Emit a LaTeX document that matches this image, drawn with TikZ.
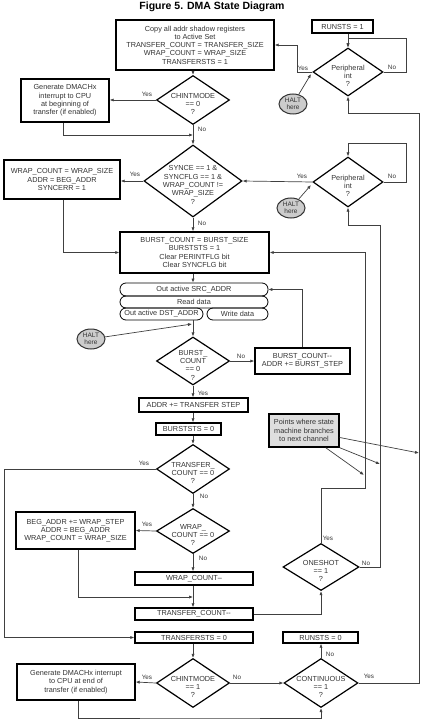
\documentclass[tikz,border=0pt]{standalone}
\usepackage{fontspec}
\setmainfont{Liberation Sans}
\usetikzlibrary{shapes.geometric,arrows.meta}
\begin{document}
\begin{tikzpicture}[x=1pt,y=-1pt,
  every node/.style={font=\fontsize{7.3}{8.3}\selectfont, text=black!80},
  box/.style={draw=black, line width=1.4pt, inner sep=0pt, align=center, fill=white},
  rbox/.style={draw=black, line width=0.8pt, rounded corners=6pt, inner sep=0pt, align=center},
  dia/.style={diamond, draw=black, line width=1.2pt, inner sep=0pt},
  dlab/.style={align=center, inner sep=0pt, yshift=-4pt},
  halt/.style={ellipse, draw=black!80, line width=1pt, fill=black!20, inner sep=0pt, minimum width=28pt, minimum height=20pt, align=center, font=\fontsize{6.5}{7}\selectfont},
  con/.style={draw=black!75, line width=0.7pt},
  arr/.style={con, -{Latex[length=4pt,width=3.2pt]}},
  lbl/.style={font=\fontsize{6.3}{7}\selectfont, inner sep=0pt},
]
\useasboundingbox (0,0) rectangle (424,722);

\node[font=\bfseries\fontsize{10.5}{12}\selectfont, text=black] (title) at (212,7) {Figure 5. DMA State Diagram};

% boxes
\node[box, minimum width=158pt, minimum height=50pt] (copy) at (195,45) {Copy all addr shadow registers\\to Active Set\\TRANSFER\_COUNT = TRANSFER\_SIZE\\WRAP\_COUNT = WRAP\_SIZE\\TRANSFERSTS = 1};
\node[box, minimum width=61pt, minimum height=13pt] (runs1) at (342.5,26.5) {RUNSTS = 1};
\node[box, minimum width=88pt, minimum height=43pt] (gen1) at (65,100.5) {Generate DMACHx\\interrupt to CPU\\at beginning of\\transfer (if enabled)};
\node[box, minimum width=116pt, minimum height=39pt] (wrapsync) at (62,179.5) {WRAP\_COUNT = WRAP\_SIZE\\ADDR = BEG\_ADDR\\SYNCERR = 1};
\node[box, minimum width=149pt, minimum height=41pt] (burst) at (194.5,252.5) {BURST\_COUNT = BURST\_SIZE\\BURSTSTS = 1\\Clear PERINTFLG bit\\Clear SYNCFLG bit};
\node[rbox, minimum width=148pt, minimum height=13pt] (src) at (194,289.5) {Out active SRC\_ADDR};
\node[rbox, minimum width=148pt, minimum height=12pt] (read) at (194,302) {Read data};
\node[rbox, minimum width=83pt, minimum height=12pt] (dst) at (161.5,314) {Out active DST\_ADDR};
\node[rbox, minimum width=61pt, minimum height=12pt] (write) at (237.5,314) {Write data};
\node[box, minimum width=95pt, minimum height=26pt] (bcdec) at (302.5,361) {BURST\_COUNT-{}-\\ADDR += BURST\_STEP};
\node[box, minimum width=109pt, minimum height=14pt] (addr) at (193.5,405) {ADDR += TRANSFER STEP};
\node[box, minimum width=65pt, minimum height=12pt] (bsts0) at (188.5,429) {BURSTSTS = 0};
\node[box, fill=black!13, minimum width=70pt, minimum height=33pt] (points) at (304,430.5) {Points where state\\machine branches\\to next channel};
\node[box, minimum width=119pt, minimum height=37pt] (begaddr) at (75.5,530.5) {BEG\_ADDR += WRAP\_STEP\\ADDR = BEG\_ADDR\\WRAP\_COUNT = WRAP\_SIZE};
\node[box, minimum width=118pt, minimum height=13pt] (wcdec) at (194,578.5) {WRAP\_COUNT--};
\node[box, minimum width=118pt, minimum height=12pt] (tcdec) at (194,614) {TRANSFER\_COUNT-{}-};
\node[box, minimum width=118pt, minimum height=11pt] (tsts0) at (194,637.5) {TRANSFERSTS = 0};
\node[box, minimum width=75pt, minimum height=11pt] (runs0) at (320.5,637.5) {RUNSTS = 0};
\node[box, minimum width=118pt, minimum height=36pt] (gen2) at (76,682) {Generate DMACHx interrupt\\to CPU at end of\\transfer (if enabled)};

% diamonds
\node[dia, minimum width=70pt, minimum height=48pt, label={[dlab]center:{Peripheral\\int\\?}}] (pi1) at (348,72) {};
\node[dia, minimum width=73pt, minimum height=49pt, label={[dlab]center:{CHINTMODE\\== 0\\?}}] (chint0) at (193,100) {};
\node[dia, minimum width=98pt, minimum height=72pt, label={[dlab]center:{SYNCE == 1 \&\\SYNCFLG == 1 \&\\WRAP\_COUNT !=\\WRAP\_SIZE\\?}}] (synce) at (193,181) {};
\node[dia, minimum width=70pt, minimum height=50pt, label={[dlab]center:{Peripheral\\int\\?}}] (pi2) at (348,182) {};
\node[dia, minimum width=73pt, minimum height=48pt, label={[dlab]center:{BURST\_\\COUNT\\== 0\\?}}] (burstc) at (193,361) {};
\node[dia, minimum width=73pt, minimum height=49pt, label={[dlab]center:{TRANSFER\_\\COUNT == 0\\?}}] (trc) at (193,469) {};
\node[dia, minimum width=73pt, minimum height=45pt, label={[dlab]center:{WRAP\_\\COUNT == 0\\?}}] (wrapc) at (193,531) {};
\node[dia, minimum width=76pt, minimum height=47pt, label={[dlab]center:{ONESHOT\\== 1\\?}}] (oneshot) at (321,567) {};
\node[dia, minimum width=73pt, minimum height=49pt, label={[dlab]center:{CHINTMODE\\== 1\\?}}] (chint1) at (193,683) {};
\node[dia, minimum width=74pt, minimum height=49pt, label={[dlab]center:{CONTINUOUS\\== 1\\?}}] (cont) at (321,683) {};

% halt ellipses
\node[halt] (halt1) at (293,104) {HALT\\here};
\node[halt] (halt2) at (291,208) {HALT\\here};
\node[halt] (halt3) at (91,339) {HALT\\here};

% coordinates
\coordinate (loop1) at (406,38);
\coordinate (y1) at (297,45);
\coordinate (h1t) at (311,74);
\coordinate (c1) at (419,113);
\coordinate (j1) at (193,135);
\coordinate (loop2) at (406,143);
\coordinate (h2t) at (311,185);
\coordinate (c2) at (380,225);
\coordinate (h3t) at (192,324);
\coordinate (c3) at (4,469);
\coordinate (c4) at (365,488);
\coordinate (j2) at (193,597);
\coordinate (c5) at (200,718);
\coordinate (pe1) at (419,453);
\coordinate (pe2) at (380,464);
\coordinate (pe3) at (364,475);

% connectors
\draw[arr] (runs1.south -| pi1.north) -- (pi1.north);
\draw[arr] (pi1.east) -| (loop1) -| (pi1.north);
\draw[arr] (pi1.west) -| (y1) -- (copy.east);
\draw[arr] (halt1) -- (h1t);
\draw[arr] (cont.east) -| (c1) -| (pi1.south);
\draw[arr] (copy.south -| chint0.north) -- (chint0.north);
\draw[arr] (chint0.west) -- (chint0.west -| gen1.east);
\draw[arr] (chint0.south) -- (synce.north);
\draw[arr] (gen1.south -| 63,0) |- (j1);
\draw[arr] (synce.west) -- (synce.west -| wrapsync.east);
\draw[arr] (pi2.east) -| (loop2) -| (pi2.north);
\draw[arr] (pi2.west) -- (synce.east);
\draw[arr] (halt2) -- (h2t);
\draw[arr] (oneshot.east) -| (c2) -| (pi2.south);
\draw[arr] (synce.south) -- (synce.south |- burst.north);
\draw[arr] (wrapsync.south -| 63,0) |- (burst.west);
\draw[arr] (burst.south -| synce.south) -- (synce.south |- src.north);
\draw[arr] (bcdec.north) |- (src.east);
\draw[arr] (burstc.north |- dst.south) -- (burstc.north);
\draw[arr] (halt3) -- (h3t);
\draw[arr] (burstc.east) -- (bcdec.west);
\draw[arr] (burstc.south) -- (burstc.south |- addr.north);
\draw[arr] (addr.south -| burstc.south) -- (burstc.south |- bsts0.north);
\draw[arr] (bsts0.south -| trc.north) -- (trc.north);
\draw[arr] (trc.west) -- (c3) |- (tsts0.west);
\draw[arr] (trc.south) -- (wrapc.north);
\draw[arr] (wrapc.west) -- (begaddr.east);
\draw[arr] (wrapc.south) -- (wrapc.south |- wcdec.north);
\draw[arr] (begaddr.south -| 78,0) |- (j2);
\draw[arr] (wcdec.south -| wrapc.south) -- (wrapc.south |- tcdec.north);
\draw[arr] (tcdec.east) -| (oneshot.south);
\draw[arr] (oneshot.north) |- (c4) |- (burst.east);
\draw[arr] (tsts0.south -| chint1.north) -- (chint1.north);
\draw[arr] (chint1.west) -- (gen2.east);
\draw[arr] (chint1.east) -- (cont.west);
\draw[arr] (cont.north) -- (cont.north |- runs0.south);
\draw[arr] (gen2.south -| 78,0) |- (c5) -| (cont.south);
\draw[arr] ([yshift=-7pt]points.east) -- (pe1);
\draw[arr] (points.south east) -- (pe2);
\draw[arr] ([xshift=-14pt]points.south east) -- (pe3);

% labels
\node[lbl] (l1) at (303,68) {Yes};
\node[lbl] (l2) at (392,67) {No};
\node[lbl] (l3) at (147,94) {Yes};
\node[lbl] (l4) at (202,129) {No};
\node[lbl] (l5) at (135,174) {Yes};
\node[lbl] (l6) at (302,176) {Yes};
\node[lbl] (l7) at (392,176) {No};
\node[lbl] (l8) at (202,223) {No};
\node[lbl] (l9) at (241,356) {No};
\node[lbl] (l10) at (203,393) {Yes};
\node[lbl] (l11) at (144,463) {Yes};
\node[lbl] (l12) at (204,496) {No};
\node[lbl] (l13) at (147,524) {Yes};
\node[lbl] (l14) at (203,558) {No};
\node[lbl] (l15) at (328,538) {Yes};
\node[lbl] (l16) at (366,563) {No};
\node[lbl] (l17) at (147,677) {Yes};
\node[lbl] (l18) at (237,677) {No};
\node[lbl] (l19) at (330,654) {No};
\node[lbl] (l20) at (369,676) {Yes};
\end{tikzpicture}
\end{document}
